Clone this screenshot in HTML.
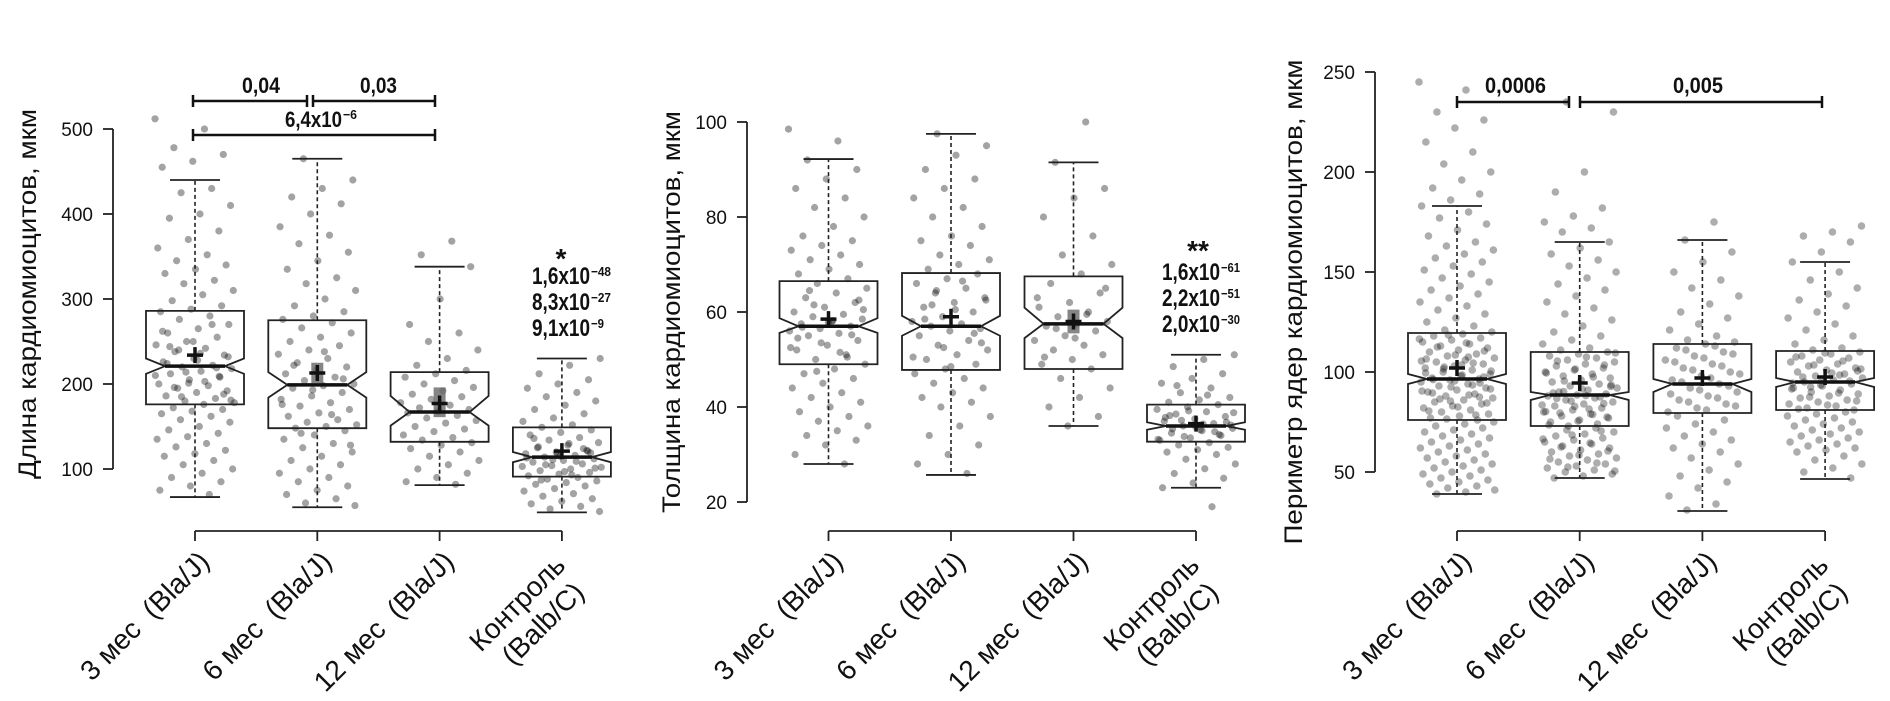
<!DOCTYPE html>
<html><head><meta charset="utf-8"><style>
html,body{margin:0;padding:0;background:#fff;}
svg{display:block;}
.pre{white-space:pre;}
</style></head><body>
<svg id="fig" width="1890" height="701" viewBox="0 0 1890 701" xmlns="http://www.w3.org/2000/svg">
<rect x="0" y="0" width="1890" height="701" fill="#fff"/>
</svg>
<script>
// ---- data ----
const categories = ['3 мес  (Bla/J)', '6 мес  (Bla/J)', '12 мес  (Bla/J)', 'Контроль|(Balb/C)'];

const p1_ticks = [100, 200, 300, 400, 500];
const p1_q1 = [176, 148, 132, 91];
const p1_med = [221, 199, 167, 114];
const p1_q3 = [286, 275, 214, 149];
const p1_lo = [67, 55, 81, 49];
const p1_hi = [440, 465, 338, 230];
const p1_mean = [234, 213, 177, 121];
const p1_notchLo = [212, 184, 151, 108];
const p1_notchHi = [230, 214, 186, 120];
const p1_ciLo = [null, 201, 161, null];
const p1_ciHi = [null, 225, 196, null];
const p1_pts0 = [512,500,478,470,462,455,430,425,410,400,395,380,370,360,352,345,340,335,330,322,318,310,305,298,292,288,285,280,276,270,265,260,255,250,246,242,238,234,230,226,222,220,218,215,212,208,205,200,198,195,192,190,186,183,180,178,176,172,170,168,165,162,158,155,150,146,142,138,135,130,126,122,118,115,110,105,100,95,90,85,80,75,70,240,232,228,224,219,214,210,203,196,188,250,262,270,185,181,236,244,209,201];
const p1_pts1 = [465,440,430,420,412,400,385,375,365,355,345,335,325,318,310,300,292,285,280,276,272,266,260,255,250,245,240,235,230,225,220,216,212,208,204,200,198,195,190,186,182,178,174,170,166,162,158,155,152,150,148,145,140,135,130,125,120,115,110,105,100,95,90,85,80,75,70,65,60,57,238,222,206,193,176,164,142,128];
const p1_pts2 = [368,352,338,300,270,260,250,240,230,222,216,212,208,204,200,196,192,188,185,182,178,175,172,170,168,166,163,160,157,154,150,147,144,140,137,134,131,128,124,120,115,110,105,100,95,90,85,82];
const p1_pts3 = [230,222,212,205,200,195,190,185,180,175,170,165,160,156,152,149,146,143,140,137,134,131,128,125,122,120,118,116,114,112,110,108,106,104,102,100,98,96,94,92,90,88,86,84,82,80,77,74,71,68,65,62,59,56,53,50,130,126,121,117,113,109,105,101,97,136,124,111,103,93,87,119,115];

const p2_ticks = [20, 40, 60, 80, 100];
const p2_q1 = [49, 47.8, 48, 32.7];
const p2_med = [57, 57, 57.5, 36];
const p2_q3 = [66.5, 68.2, 67.5, 40.5];
const p2_lo = [28, 25.7, 36, 23];
const p2_hi = [92.2, 97.5, 91.5, 51];
const p2_mean = [58.5, 59, 58, 36.5];
const p2_notchLo = [55.6, 55, 54.5, 35.2];
const p2_notchHi = [58.7, 59.2, 60.9, 36.8];
const p2_ciLo = [null, null, 55.5, null];
const p2_ciHi = [null, null, 60.5, null];
const p2_pts0 = [98.5,96,92,90,88,86,84,82,80,78,76,75,74,73,72,71,70,69,68,67,66,65,64,63,62,61,60,59.5,59,58.5,58,57.5,57,56.5,56,55.5,55,54,53,52,51,50,49,48,47,46,45,44,43,42,41,40,39,38,37,36,35,34,33,32,30,28,61.5,60.5,58.2,56.8,55.2,53.5,52.5,51.5,64.5,62.5,57.8,54.5,50.5,47.5];
const p2_pts1 = [97.5,95,93,90,88,86,84,82,80,78,76,75,74,72,71,70,69,68,67,66,65,64,63,62,61,60,59,58,57.5,57,56.5,56,55,54,53,52,51,50,49,48,47,46,45,44,43,42,41,40,38,36,34,32,30,28,26,64.5,62.5,60.5,58.5,55.5,52.5,50.5,66.5,61.5,53.5,48.5];
const p2_pts2 = [100,91.5,86,84,80,76,72,70,68,66,64,62,61,60,59,58,57.5,57,56,55,54,53,52,51,50,49,48,46,44,42,40,38,36,63,59.5,56.5,65,54.5,50.5];
const p2_pts3 = [51,50,48.5,47,46,45,44,43,42,41.5,41,40.5,40,39.5,39,38.5,38,37.5,37,36.5,36,35.5,35,34.5,34,33.5,33,32.5,32,31.5,31,30.5,30,29,28,27,26,25,24,23,19,37.2,36.2,35.2,38.2,34.2,39.2,33.2,42.5,44.5,36.8,35.8,37.8,34.8,33.8,38.8,36.4,35.4];

const p3_ticks = [50, 100, 150, 200, 250];
const p3_q1 = [76, 73, 79.5, 81];
const p3_med = [96.5, 88.5, 94, 95];
const p3_q3 = [119.5, 110, 114, 110.5];
const p3_lo = [39, 47, 30.5, 46.5];
const p3_hi = [183, 165, 166, 155];
const p3_mean = [102, 94.5, 97, 97.5];
const p3_notchLo = [94, 86, 90, 92.5];
const p3_notchHi = [99, 90, 96.5, 97];
const p3_ciLo = [null, null, null, null];
const p3_ciHi = [null, null, null, null];
const p3_pts0 = [245,241,230,226,222,215,210,204,200,196,192,189,186,183,180,177,174,171,168,165,163,161,159,157,155,153,151,149,147,145,143,141,139,137,135,133,131,129,127,125,123,121,120,119,118,117,116,115,114,113,112,111,110,109,108,107,106,105,104,103,102,101,100,99,98,97,96.5,96,95,94,93,92,91,90,89,88,87,86,85,84,83,82,81,80,79,78,77,76,118.5,116.5,114.5,112.5,110.5,108.5,106.5,104.5,102.5,100.5,98.5,96.2,94.5,92.5,90.5,88.5,86.5,84.5,82.5,80.5,78.5,76.5,75,74,73,72,71,70,69,68,67,66,65,64,63,62,61,60,59,58,57,56,55,54,53,52,51,50,49,48,47,46,45,44,43,42,41,40,39,97.5,95.5,99.5,93.5,101.5,91.5,103.5,89.5,87.5,85.5,105.5,107.5];
const p3_pts1 = [235,230,200,190,182,178,175,172,170,165,162,159,156,153,150,147,144,141,138,135,132,129,126,123,120,118,116,114,112,111,110,109,108,107,106,105,104,103,102,101,100,99,98,97,96,95,94,93,92,91,90,89,88.5,88,87,86,85,84,83,82,81,80,79,78,77,76,75,74,73,109.5,107.5,105.5,103.5,101.5,99.5,97.5,95.5,93.5,91.5,89.5,87.5,85.5,83.5,81.5,79.5,77.5,75.5,73.5,72,71,70,69,68,67,66,65,64,63,62,61,60,59,58,57,56,55,54,53,52,51,50,49,48,47,70.5,68.5,66.5,64.5,62.5,60.5,58.5,56.5,54.5,52.5,50.5,88.2,86.8,84.2,82.8,80.2,78.8,90.2,92.8];
const p3_pts2 = [175,166,160,155,150,146,142,138,134,130,127,124,121,118,116,115,114,112,110,108,106,104,102,100,98,96,94,92,90,88,86,84,82,80,113,111,109,107,105,103,101,99,97,95,93,91,89,87,85,83,81,78,76,74,72,70,68,66,64,62,60,57,54,51,48,45,42,38,34,31];
const p3_pts3 = [173,170,168,165,160,155,150,146,142,139,136,133,130,127,124,121,118,116,114,112,111,110,109,108,107,106,105,104,103,102,101,100,99,98,97,96,95,94,93,92,91,90,89,88,87,86,85,84,83,82,81,109.5,107.5,105.5,103.5,101.5,99.5,97.5,95.5,93.5,91.5,89.5,87.5,85.5,83.5,81.5,80,79,78,77,76,75,74,73,72,71,70,69,68,67,66,65,64,63,62,61,60,58,56,54,52,50,47,96.5,94.5,98.5,92.5,100.5];

// ---- helpers ----
const NS = 'http://www.w3.org/2000/svg';
const svg = document.getElementById('fig');
function mk(tag, attrs, parent) {
  const e = document.createElementNS(NS, tag);
  for (const k in attrs) e.setAttribute(k, attrs[k]);
  (parent || svg).appendChild(e);
  return e;
}
function jit(i) { return ((i * 0.6180339887) % 1) - 0.5; }

function drawPanel(P) {
  const g = mk('g', {});
  
  
  const y = v => P.yBase - (v - P.ticks[0]) * P.k;
  const cx = i => P.cx0 + i * P.step;
  const hw = 49, nw = 30, cap = 25;

  const ax = mk('line', {x1: P.ax, x2: P.ax, y1: y(P.ticks[0]), y2: y(P.ticks[P.ticks.length - 1]), stroke: '#222', 'stroke-width': 1.8}, g);
  
  
  P.ticks.forEach(t => {
    const tl = mk('line', {x1: P.ax - 10, x2: P.ax, y1: y(t), y2: y(t), stroke: '#222', 'stroke-width': 1.8}, g);
    
    
    const tx = mk('text', {x: P.ax - 20, y: y(t) + 7, 'text-anchor': 'end', 'font-family': 'Liberation Sans, Arial, sans-serif', 'font-size': 19, fill: '#111'}, g);
    tx.textContent = t;
    
    
  });
  const tt = mk('text', {x: 0, y: 0, transform: `translate(${P.titleX},${P.titleY}) rotate(-90)`, 'text-anchor': 'middle', 'font-family': 'Liberation Sans, Arial, sans-serif', 'font-size': 25, fill: '#111', textLength: P.titleLen, lengthAdjust: 'spacingAndGlyphs'}, g);
  tt.textContent = P.title;
  
  

  const xa = mk('line', {x1: cx(0), x2: cx(3), y1: 531, y2: 531, stroke: '#222', 'stroke-width': 1.8}, g);
  
  
  categories.forEach((c, i) => {
    const tk = mk('line', {x1: cx(i), x2: cx(i), y1: 531, y2: 541, stroke: '#222', 'stroke-width': 1.8}, g);
    
    
    const parts = c.split('|');
    if (parts.length === 1) {
      const t = mk('text', {x: 0, y: 0, class: 'pre', transform: `translate(${cx(i) + 16},${563}) rotate(-45)`, 'text-anchor': 'end', 'font-family': 'Liberation Sans, Arial, sans-serif', 'font-size': 28, fill: '#111'}, g);
      t.textContent = parts[0];
      
      
    } else {
      const t1 = mk('text', {x: 0, y: 0, transform: `translate(${cx(i) + 5},${567}) rotate(-45)`, 'text-anchor': 'end', 'font-family': 'Liberation Sans, Arial, sans-serif', 'font-size': 28, fill: '#111'}, g);
      t1.textContent = parts[0];
      
      
      const t2 = mk('text', {x: 0, y: 0, transform: `translate(${cx(i) + 24},${594}) rotate(-45)`, 'text-anchor': 'end', 'font-family': 'Liberation Sans, Arial, sans-serif', 'font-size': 28, fill: '#111'}, g);
      t2.textContent = parts[1];
      
      
    }
  });

  P.pts.forEach((arr, gi) => {
    arr.forEach((v, i) => {
      const c = mk('circle', {cx: cx(gi) + jit(i + gi * 7) * 2 * P.jw, cy: y(v), r: P.r, fill: '#000', 'fill-opacity': P.op}, g);
      
      
    });
  });

  for (let i = 0; i < 4; i++) {
    const x = cx(i);
    const d = `M${x - hw},${y(P.q3[i])} L${x + hw},${y(P.q3[i])} L${x + hw},${y(P.nHi[i])} L${x + nw},${y(P.med[i])} L${x + hw},${y(P.nLo[i])} L${x + hw},${y(P.q1[i])} L${x - hw},${y(P.q1[i])} L${x - hw},${y(P.nLo[i])} L${x - nw},${y(P.med[i])} L${x - hw},${y(P.nHi[i])} Z`;
    const b = mk('path', {d: d, fill: 'none', stroke: '#222', 'stroke-width': 1.8}, g);
    
    
    const w1 = mk('line', {x1: x, x2: x, y1: y(P.q3[i]), y2: y(P.hi[i]), stroke: '#222', 'stroke-width': 1.6, 'stroke-dasharray': '4 3'}, g);
    
    
    const w2 = mk('line', {x1: x, x2: x, y1: y(P.q1[i]), y2: y(P.lo[i]), stroke: '#222', 'stroke-width': 1.6, 'stroke-dasharray': '4 3'}, g);
    
    
    const c1 = mk('line', {x1: x - cap, x2: x + cap, y1: y(P.hi[i]), y2: y(P.hi[i]), stroke: '#222', 'stroke-width': 1.8}, g);
    
    
    const c2 = mk('line', {x1: x - cap, x2: x + cap, y1: y(P.lo[i]), y2: y(P.lo[i]), stroke: '#222', 'stroke-width': 1.8}, g);
    
    
    if (P.ciLo[i] !== null) {
      const r = mk('rect', {x: x - 6, y: y(P.ciHi[i]), width: 12, height: y(P.ciLo[i]) - y(P.ciHi[i]), fill: '#666', 'fill-opacity': 0.8}, g);
      
      
    }
    const m = mk('line', {x1: x - nw, x2: x + nw, y1: y(P.med[i]), y2: y(P.med[i]), stroke: '#111', 'stroke-width': 3.5}, g);
    
    
    const mp = mk('path', {d: `M${x - 8},${y(P.mean[i])} H${x + 8} M${x},${y(P.mean[i]) - 8} V${y(P.mean[i]) + 8}`, stroke: '#111', 'stroke-width': 3.5, fill: 'none'}, g);
    
    
  }
}

function ann(x, base, main, sup, mainW, supW, size, name) {
  const t = mk('text', {x: x, y: base, 'font-family': 'Liberation Sans, Arial, sans-serif', 'font-weight': 'bold', 'font-size': size, fill: '#111', textLength: mainW, lengthAdjust: 'spacingAndGlyphs'});
  t.textContent = main;
  
  
  if (sup) {
    const s = mk('text', {x: x + mainW + 1, y: base - 8, 'font-family': 'Liberation Sans, Arial, sans-serif', 'font-weight': 'bold', 'font-size': 13, fill: '#111', textLength: supW, lengthAdjust: 'spacingAndGlyphs'});
    s.textContent = sup;
    
    
  }
}
function bracket(x1, x2, yy, name) {
  const p = mk('path', {d: `M${x1},${yy - 6} V${yy + 6} M${x1},${yy} H${x2} M${x2},${yy - 6} V${yy + 6}`, stroke: '#111', 'stroke-width': 2.5, fill: 'none'});
  
  
}

drawPanel({name: 'panel-length', ax: 113, cx0: 195, step: 122.3, yBase: 469, k: 0.85, ticks: p1_ticks,
  title: 'Длина кардиомиоцитов, мкм', titleX: 36, titleY: 294, titleLen: 370,
  q1: p1_q1, med: p1_med, q3: p1_q3, lo: p1_lo, hi: p1_hi, mean: p1_mean, nLo: p1_notchLo, nHi: p1_notchHi, ciLo: p1_ciLo, ciHi: p1_ciHi,
  pts: [p1_pts0, p1_pts1, p1_pts2, p1_pts3], jw: 40, r: 3.6, op: 0.36});
drawPanel({name: 'panel-thickness', ax: 747, cx0: 828.5, step: 122.5, yBase: 502, k: 4.75, ticks: p2_ticks,
  title: 'Толщина кардиомиоцитов, мкм', titleX: 680, titleY: 312, titleLen: 402,
  q1: p2_q1, med: p2_med, q3: p2_q3, lo: p2_lo, hi: p2_hi, mean: p2_mean, nLo: p2_notchLo, nHi: p2_notchHi, ciLo: p2_ciLo, ciHi: p2_ciHi,
  pts: [p2_pts0, p2_pts1, p2_pts2, p2_pts3], jw: 40, r: 3.6, op: 0.36});
drawPanel({name: 'panel-nucleus-perimeter', ax: 1375, cx0: 1457, step: 122.7, yBase: 472, k: 2, ticks: p3_ticks,
  title: 'Периметр ядер кардиомиоцитов, мкм', titleX: 1302, titleY: 302, titleLen: 485,
  q1: p3_q1, med: p3_med, q3: p3_q3, lo: p3_lo, hi: p3_hi, mean: p3_mean, nLo: p3_notchLo, nHi: p3_notchHi, ciLo: p3_ciLo, ciHi: p3_ciHi,
  pts: [p3_pts0, p3_pts1, p3_pts2, p3_pts3], jw: 38, r: 3.8, op: 0.32});

bracket(193, 307, 101, 'bracket-3m-6m');
bracket(313, 435, 101, 'bracket-6m-12m');
bracket(193, 435, 135, 'bracket-3m-12m');
ann(242, 93, '0,04', null, 38, 0, 22, 'p-value-3m-6m');
ann(360, 93, '0,03', null, 37, 0, 22, 'p-value-6m-12m');
ann(285, 127, '6,4x10', '−6', 57, 14, 22, 'p-value-3m-12m');
const st1 = mk('text', {x: 561, y: 268, 'text-anchor': 'middle', 'font-family': 'Liberation Sans, Arial, sans-serif', 'font-weight': 'bold', 'font-size': 28, fill: '#111'});
st1.textContent = '*';


ann(532, 284, '1,6x10', '−48', 58, 20, 24, 'p-value-control-1');
ann(532, 310, '8,3x10', '−27', 58, 20, 24, 'p-value-control-2');
ann(532, 336, '9,1x10', '−9', 58, 13, 24, 'p-value-control-3');

const st2 = mk('text', {x: 1198, y: 260, 'text-anchor': 'middle', 'font-family': 'Liberation Sans, Arial, sans-serif', 'font-weight': 'bold', 'font-size': 28, fill: '#111'});
st2.textContent = '**';


ann(1162, 280, '1,6x10', '−61', 58, 19, 24, 'p-value-control-1');
ann(1162, 306, '2,2x10', '−51', 58, 19, 24, 'p-value-control-2');
ann(1162, 332, '2,0x10', '−30', 58, 19, 24, 'p-value-control-3');

bracket(1457, 1569, 102, 'bracket-3m-6m');
bracket(1580, 1822, 102, 'bracket-6m-control');
ann(1485, 93, '0,0006', null, 61, 0, 22, 'p-value-3m-6m');
ann(1673, 93, '0,005', null, 50, 0, 22, 'p-value-6m-control');
</script>
</body></html>
